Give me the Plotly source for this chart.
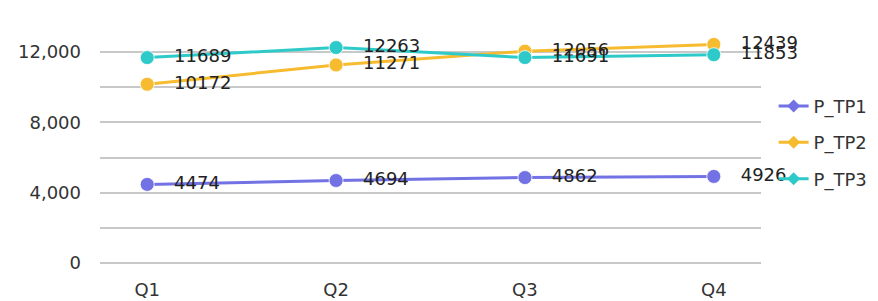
import plotly.graph_objects as go

categories = ["Q1", "Q2", "Q3", "Q4"]
p_tp1 = [4474, 4694, 4862, 4926]
p_tp2 = [10172, 11271, 12056, 12439]
p_tp3 = [11689, 12263, 11691, 11853]
series_names = ["P_TP1", "P_TP2", "P_TP3"]
series_colors = ["#7272e4", "#f6bb2f", "#2ecaca"]
tick_vals = [0, 2000, 4000, 6000, 8000, 10000, 12000, 14000]
tick_text = ["0", "", "4,000", "", "8,000", "", "12,000", ""]

fig = go.Figure()
for name, vals, col in zip(series_names, [p_tp1, p_tp2, p_tp3], series_colors):
    fig.add_trace(go.Scatter(
        x=categories, y=vals, name=name, mode="lines+markers+text",
        text=[str(v) for v in vals], textposition="middle right",
        texttemplate="\u00a0\u00a0\u00a0%{text}",
        textfont=dict(family="DejaVu Sans", size=18, color="#222222"),
        line=dict(color=col, width=3),
        marker=dict(color=col, size=14, line=dict(color="rgba(255,255,255,0.8)", width=1)),
        legendgroup=name, showlegend=False, cliponaxis=False,
    ))
for name, col in zip(series_names, series_colors):
    fig.add_trace(go.Scatter(
        x=[None], y=[None], name=name, mode="lines+markers",
        line=dict(color=col, width=3),
        marker=dict(color=col, size=10, symbol="diamond"),
        legendgroup=name, showlegend=True,
    ))

fig.update_layout(
    width=878, height=301,
    margin=dict(l=92, r=125, t=9, b=44),
    plot_bgcolor="white", paper_bgcolor="white",
    font=dict(family="DejaVu Sans", size=18, color="#333333"),
    showlegend=True,
    legend=dict(xref="container", yref="container", x=0.872, y=0.735,
                xanchor="left", yanchor="top",
                traceorder="grouped", tracegroupgap=10,
                font=dict(size=18, color="#333333"), itemwidth=30,
                bgcolor="rgba(0,0,0,0)"),
    xaxis=dict(range=[-0.25, 3.25], showgrid=False, zeroline=False,
               showline=False, ticks="", ticklabelstandoff=14,
               tickfont=dict(size=18, color="#333333")),
    yaxis=dict(range=[0, 14000], tickvals=tick_vals, ticktext=tick_text,
               showgrid=True, gridcolor="#c8c8c8", gridwidth=1.5,
               zeroline=True, zerolinecolor="#c8c8c8", zerolinewidth=1.5,
               showline=False, ticks="",
               ticklabelstandoff=18, tickfont=dict(size=18, color="#333333")),
)
fig.write_html("out.html")
